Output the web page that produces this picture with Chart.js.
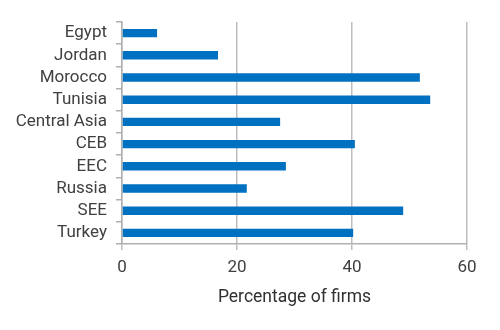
<!DOCTYPE html>
<html>
<head>
<meta charset="utf-8">
<script src="https://cdn.jsdelivr.net/npm/chart.js@4"></script>
<style>
html,body{margin:0;padding:0;background:#fff;}
#wrap{width:500px;height:330px;}
</style>
</head>
<body>
<div id="wrap"><canvas id="firmsChart" width="500" height="330"></canvas></div>
<script>

/* Data */

const regions = ["Egypt","Jordan","Morocco","Tunisia","Central Asia","CEB","EEC","Russia","SEE","Turkey"];
const shares = [6.1,16.7,51.8,53.6,27.5,40.5,28.5,21.7,48.9,40.2];
const xTicks = [0,20,40,60];

const FONT = "Roboto,'Noto Sans',sans-serif";

/* Chart */

const ctx = document.getElementById("firmsChart").getContext("2d");

const chart = new Chart(ctx,{
type:"bar",
data:{
labels:regions,
datasets:[{
label:"Percentage of firms",
data:shares,
backgroundColor:"#0070c0",
barPercentage:0.38,
categoryPercentage:1
}]
},
options:{
indexAxis:"y",
responsive:false,
animation:false,
layout:{padding:{top:22,right:33,left:0,bottom:22}},
plugins:{legend:{display:false},tooltip:{enabled:false}},
scales:{
y:{
grid:{drawOnChartArea:false,offset:true,tickLength:6,color:"#b0b0b0",lineWidth:1.5},
border:{color:"#b0b0b0",width:1.5},
ticks:{color:"#404040",font:{family:FONT,size:17},padding:9,autoSkip:false},
afterFit:s=>{s.width=122;}
},
x:{
min:0,max:60,
afterBuildTicks:s=>{s.ticks=xTicks.map(v=>({value:v}));},
grid:{color:"#bdbdbd",lineWidth:1.5,tickLength:6},
border:{color:"#b0b0b0",width:1.5},
ticks:{color:"#404040",font:{family:FONT,size:17},padding:8},
title:{display:true,text:"Percentage of firms",color:"#303030",font:{family:FONT,size:17.5},padding:{top:6,bottom:0}},
afterFit:s=>{s.height=64;}
}
}
}
});

</script>
</body>
</html>
